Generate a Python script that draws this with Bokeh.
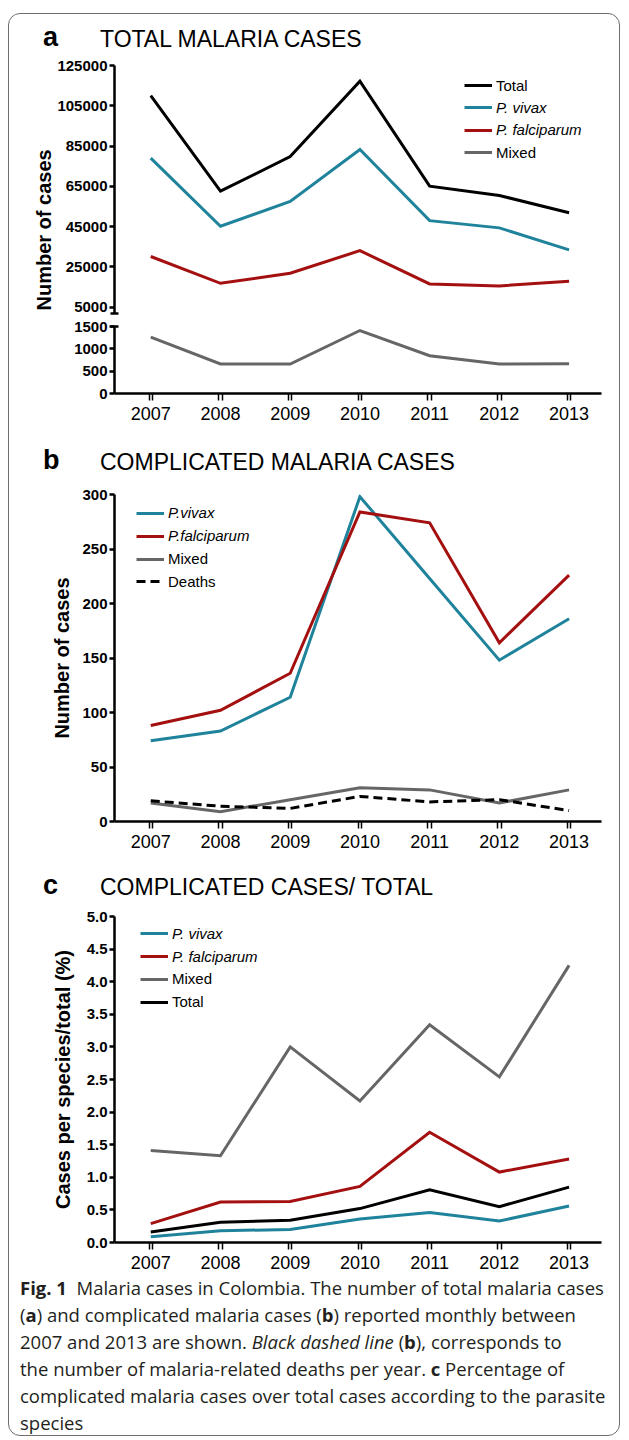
from bokeh.plotting import figure
from bokeh.models import (Range1d, FixedTicker, NumeralTickFormatter, Title,
                          Legend, LegendItem, Div, Spacer)
from bokeh.layouts import column, row
from bokeh.core.properties import value
from bokeh.embed import file_html
from bokeh.resources import INLINE

# ---------------- data ----------------
years = [2007, 2008, 2009, 2010, 2011, 2012, 2013]

# panel a: total malaria cases
a_total = [110000, 62600, 79800, 117200, 65100, 60500, 51900]
a_vivax = [79000, 45200, 57500, 83300, 48000, 44400, 33500]
a_falciparum = [30200, 16900, 21900, 33100, 16600, 15600, 17900]
a_mixed = [1260, 660, 660, 1410, 845, 660, 665]
a_upper_ticks = [5000, 25000, 45000, 65000, 85000, 105000, 125000]
a_lower_ticks = [0, 500, 1000, 1500]

# panel b: complicated malaria cases
b_vivax = [74, 83, 114, 298, 223, 148, 186]
b_falciparum = [88, 102, 136, 284, 274, 164, 226]
b_mixed = [17, 9, 20, 31, 29, 17, 29]
b_deaths = [19, 14, 12, 23, 18, 20, 10]
b_ticks = [0, 50, 100, 150, 200, 250, 300]

# panel c: complicated cases / total (%)
c_vivax = [0.09, 0.18, 0.20, 0.36, 0.46, 0.33, 0.56]
c_falciparum = [0.29, 0.62, 0.63, 0.86, 1.69, 1.08, 1.28]
c_mixed = [1.41, 1.33, 3.00, 2.17, 3.34, 2.54, 4.25]
c_total = [0.16, 0.31, 0.34, 0.52, 0.81, 0.55, 0.85]
c_ticks = [0.0, 0.5, 1.0, 1.5, 2.0, 2.5, 3.0, 3.5, 4.0, 4.5, 5.0]

# ---------------- style ----------------
FONT = "Liberation Sans"
C_VIVAX = "#1f839b"
C_FALC = "#a3100f"
C_MIXED = "#666666"
C_TOTAL = "#000000"
LW = 3
W = 610

x_range = Range1d(2006.48, 2013.465)
year_minor = [y + d for y in years for d in (-0.025, 0.025)]


def base_fig(height, top, bottom, left, right, y_range, x_axis=True):
    p = figure(width=W, height=height, x_range=x_range, y_range=y_range,
               output_backend="svg", toolbar_location=None,
               min_border_left=left, min_border_right=right,
               min_border_top=top, min_border_bottom=bottom,
               x_axis_location="below" if x_axis else None)
    p.outline_line_color = None
    p.grid.visible = False
    p.background_fill_color = None
    p.border_fill_color = None
    return p


def style_y(p, ticks, caps, fmt):
    ax = p.yaxis[0]
    ax.ticker = FixedTicker(ticks=ticks, minor_ticks=caps)
    ax.formatter = NumeralTickFormatter(format=fmt)
    ax.axis_line_width = 2.5
    ax.axis_line_color = "black"
    ax.major_tick_line_width = 2.5
    ax.major_tick_line_color = "black"
    ax.major_tick_out = 5
    ax.major_tick_in = 0
    ax.minor_tick_line_width = 2.5
    ax.minor_tick_line_color = "black"
    ax.minor_tick_in = 4
    ax.minor_tick_out = 4
    ax.major_label_text_font = FONT
    ax.major_label_text_font_style = "bold"
    ax.major_label_text_font_size = "15px"
    ax.major_label_text_color = "black"
    ax.major_label_standoff = 2


def style_x(p):
    ax = p.xaxis[0]
    ax.ticker = FixedTicker(ticks=years, minor_ticks=year_minor)
    ax.axis_line_width = 2.5
    ax.axis_line_color = "black"
    ax.major_tick_out = 0
    ax.major_tick_in = 0
    ax.minor_tick_out = 7
    ax.minor_tick_in = 0
    ax.minor_tick_line_width = 1.5
    ax.minor_tick_line_color = "black"
    ax.major_label_text_font = FONT
    ax.major_label_text_font_size = "18px"
    ax.major_label_text_color = "black"
    ax.major_label_standoff = 6


def header_div(letter, title, height, baseline):
    html = (
        f'<div style="position:relative;width:600px;height:{height}px;'
        f'font-family:\'Liberation Sans\',Arial,sans-serif;color:#000;">'
        f'<span style="position:absolute;left:34px;top:{baseline - 22.9:.1f}px;'
        f'font-size:27px;font-weight:bold;line-height:1;white-space:nowrap;">{letter}</span>'
        f'<span style="position:absolute;left:91px;top:{baseline - 19.5:.1f}px;'
        f'font-size:23px;line-height:1;white-space:nowrap;">{title}</span></div>'
    )
    return Div(text=html, width=W, height=height, margin=0)


def add_legend(p, entries, x0, centers):
    for (lab, r, italic), yc in zip(entries, centers):
        leg = Legend(items=[LegendItem(label=value(lab), renderers=[r])],
                     location=(x0, yc - 10), orientation="vertical",
                     padding=0, margin=0, spacing=0,
                     border_line_color=None, background_fill_alpha=0,
                     glyph_width=28, glyph_height=20, label_height=20,
                     label_standoff=4, label_text_font=FONT,
                     label_text_font_size="15px", label_text_color="black",
                     label_text_font_style="italic" if italic else "normal")
        p.add_layout(leg)


def y_label(ax, text, standoff):
    ax.axis_label = text
    ax.axis_label_text_font = FONT
    ax.axis_label_text_font_size = "20px"
    ax.axis_label_text_font_style = "bold"
    ax.axis_label_text_color = "black"
    ax.axis_label_standoff = standoff


# ---------------- panel a (broken axis) ----------------
head_a = header_div("a", "TOTAL MALARIA CASES", 41, 33)

fa1 = base_fig(262, 10, 4, 105, 13, Range1d(1900, 125000), x_axis=False)
style_y(fa1, a_upper_ticks, [1900], "0")
r_at = fa1.line(years, a_total, line_color=C_TOTAL, line_width=LW, line_join="miter")
r_av = fa1.line(years, a_vivax, line_color=C_VIVAX, line_width=LW, line_join="miter")
r_af = fa1.line(years, a_falciparum, line_color=C_FALC, line_width=LW, line_join="miter")
# the Mixed values lie below this panel's range: only its legend swatch is used here
r_am_key = fa1.line(years, a_mixed, line_color=C_MIXED, line_width=LW, visible=False)
fa1.add_layout(Title(text="Number of cases", align="left", offset=3, standoff=0,
                     text_font=FONT, text_font_size="20px", text_font_style="bold",
                     text_color="black"), "left")
add_legend(fa1, [("Total", r_at, False), ("P. vivax", r_av, True),
                 ("P. falciparum", r_af, True), ("Mixed", r_am_key, False)],
           350, [228, 205.6, 183.2, 160.8])

fa2 = base_fig(113, 9, 37, 105, 13, Range1d(0, 1500))
style_y(fa2, a_lower_ticks, [1500], "0")
style_x(fa2)
fa2.line(years, a_mixed, line_color=C_MIXED, line_width=LW, line_join="miter")

# ---------------- panel b ----------------
head_b = header_div("b", "COMPLICATED MALARIA CASES", 50, 40)

fb = base_fig(378, 14, 37, 101, 18, Range1d(0, 300))
style_y(fb, b_ticks, [], "0")
style_x(fb)
r_bv = fb.line(years, b_vivax, line_color=C_VIVAX, line_width=LW, line_join="miter")
r_bf = fb.line(years, b_falciparum, line_color=C_FALC, line_width=LW, line_join="miter")
r_bm = fb.line(years, b_mixed, line_color=C_MIXED, line_width=LW, line_join="miter")
r_bd = fb.line(years, b_deaths, line_color="black", line_width=LW, line_dash="9 5")
y_label(fb.yaxis[0], "Number of cases", 6)
add_legend(fb, [("P.vivax", r_bv, True), ("P.falciparum", r_bf, True),
                ("Mixed", r_bm, False), ("Deaths", r_bd, False)], 22,
           [308.3, 285.4, 262.5, 239.6])

# ---------------- panel c ----------------
head_c = header_div("c", "COMPLICATED CASES/ TOTAL", 47, 37)

fc = base_fig(367, 11, 30, 101, 18, Range1d(0, 5))
style_y(fc, c_ticks, [], "0.0")
style_x(fc)
r_cm = fc.line(years, c_mixed, line_color=C_MIXED, line_width=LW, line_join="miter")
r_cf = fc.line(years, c_falciparum, line_color=C_FALC, line_width=LW, line_join="miter")
r_ct = fc.line(years, c_total, line_color=C_TOTAL, line_width=LW, line_join="miter")
r_cv = fc.line(years, c_vivax, line_color=C_VIVAX, line_width=LW, line_join="miter")
y_label(fc.yaxis[0], "Cases per species/total (%)", 10)
add_legend(fc, [("P. vivax", r_cv, True), ("P. falciparum", r_cf, True),
                ("Mixed", r_cm, False), ("Total", r_ct, False)], 26,
           [308.7, 286.0, 263.5, 240.5])

# ---------------- caption ----------------
cap_html = (
    '<div style="font-family:\'Open Sans\',sans-serif;font-size:18.5px;line-height:27px;'
    'color:#231f20;padding-left:11px;padding-top:1.5px;white-space:nowrap;">'
    '<b>Fig.&nbsp;1</b>&nbsp;&nbsp;Malaria cases in Colombia. The number of total malaria cases<br>'
    '(<b>a</b>) and complicated malaria cases (<b>b</b>) reported monthly between<br>'
    '2007 and 2013 are shown. <i>Black dashed line</i> (<b>b</b>), corresponds to<br>'
    'the number of malaria-related deaths per year. <b>c</b> Percentage of<br>'
    'complicated malaria cases over total cases according to the parasite<br>'
    'species</div>'
)
cap = Div(text=cap_html, width=W, height=163, margin=0)

boxed = column(head_a, fa1, fa2, head_b, fb, head_c, fc, cap,
               styles={"border": "1px solid #6e6e6e", "border-radius": "12px",
                       "background-color": "white"})
layout = column(Spacer(height=13), row(Spacer(width=8), boxed))

open("out.html", "w").write(file_html(layout, INLINE))
